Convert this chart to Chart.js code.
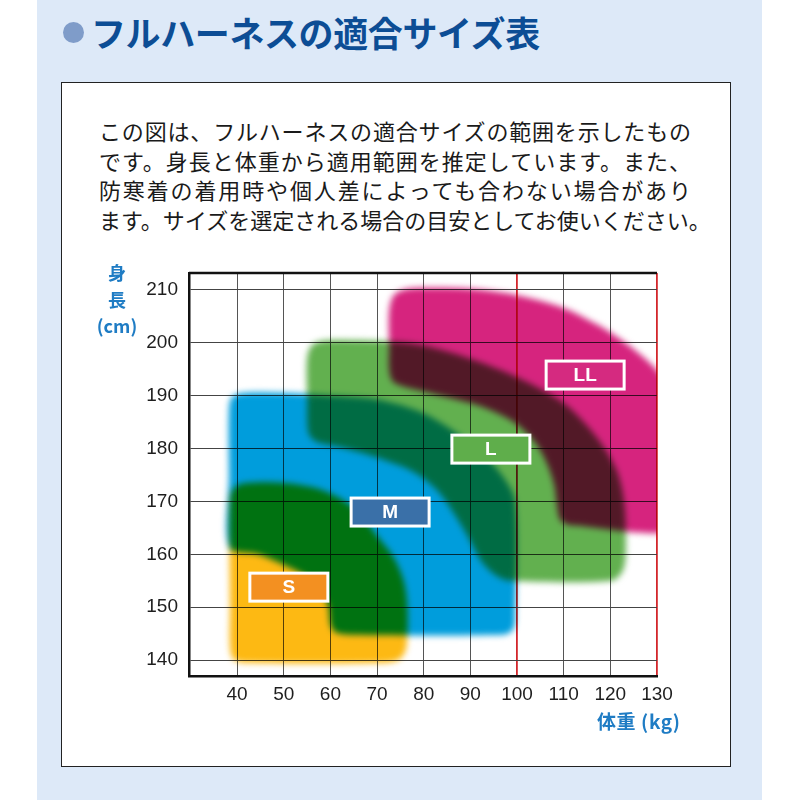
<!DOCTYPE html>
<html>
<head>
<meta charset="utf-8">
<script src="https://cdn.jsdelivr.net/npm/chart.js@4.4.1/dist/chart.umd.min.js"></script>
<style>
  body { margin: 0; width: 800px; height: 800px; background: #fff; position: relative; overflow: hidden; }
  #panel { position: absolute; left: 37px; top: 0; width: 725px; height: 800px; background: #dde9f8; }
  #bullet { position: absolute; left: 63px; top: 22px; width: 21px; height: 21px; border-radius: 50%; background: #7f9cc9; }
  #title { position: absolute; left: 91px; top: 10px; font: bold 35px/44px "Noto Sans CJK JP", sans-serif; letter-spacing: -0.4px; color: #0c4d95; white-space: nowrap; }
  #box { position: absolute; left: 61px; top: 82px; width: 668px; height: 683px; border: 1.5px solid #222; background: #fff; }
  #lead { position: absolute; left: 99px; top: 116px; width: 592px; font: 22px "Noto Sans CJK JP", sans-serif; color: #1a1a1a; }
  #lead div { height: 29.5px; line-height: 29.5px; text-align: justify; text-align-last: justify; white-space: nowrap; }
  #wrap { position: absolute; left: 80px; top: 250px; width: 640px; height: 500px; }
  .axt { position: absolute; font: bold 18px "Noto Sans CJK JP", sans-serif; color: #1f7cc4; white-space: nowrap; }
  #ytitle { left: 92px; top: 259px; width: 50px; text-align: center; line-height: 26.5px; }
  #xtitle { left: 597px; top: 708px; line-height: 26px; font-size: 19px; letter-spacing: 0.6px; }
</style>
</head>
<body>
<div id="panel"></div>
<div id="bullet"></div>
<div id="title">フルハーネスの適合サイズ表</div>
<div id="box"></div>
<div id="lead">
  <div>この図は、フルハーネスの適合サイズの範囲を示したもの</div>
  <div>です。身長と体重から適用範囲を推定しています。また、</div>
  <div>防寒着の着用時や個人差によっても合わない場合があり</div>
  <div>ます。サイズを選定される場合の目安としてお使いください。</div>
</div>
<div id="wrap"><canvas id="chart"></canvas></div>
<div id="ytitle" class="axt">身<br>長<br>(cm)</div>
<div id="xtitle" class="axt">体重 (kg)</div>

<script>
// axes: weight (kg) across, height (cm) up
const xTicks = [40, 50, 60, 70, 80, 90, 100, 110, 120, 130]
const yTicks = [140, 150, 160, 170, 180, 190, 200, 210]
const redLines = [100, 130]

// outlines of each size area (kg, cm)
const sKg = [38.5, 38.5, 39.5, 42, 50, 57, 62, 66, 70, 73.5, 75.7, 76.5, 76.3, 75, 72, 41.5, 39.2, 38.5]
const sCm = [150, 170.5, 172.7, 173.5, 173.5, 172.5, 170.6, 168, 163.5, 159.5, 155, 150, 142.5, 140.3, 139.5, 139.5, 140.2, 142.5]

const mKg = [38.3, 38.3, 39, 41.5, 50, 60, 70, 80, 90, 96.5, 99.6, 99.6, 99, 97, 64, 61, 60, 59.5, 57.5, 54.5, 50, 44.5, 38.3]
const mCm = [175, 187.5, 189.8, 190.5, 190.5, 190, 189.3, 186.7, 181, 175.3, 170, 147.5, 145.6, 144.8, 144.8, 145.3, 146.8, 150.3, 153.5, 156, 158, 160, 161.3]

const lKg = [55, 55, 56, 58.5, 65, 72, 80, 90, 100, 110, 117, 121.3, 123, 123.3, 122.6, 120.3, 98.5, 95.5, 92.5, 90, 87, 83, 78, 70, 62, 57, 55.3]
const lCm = [190, 197, 199.5, 200.4, 200.5, 200.3, 199.5, 197, 193.5, 188.6, 182.2, 176, 169.6, 160, 156.8, 155, 155, 156, 158.5, 162.5, 167, 172, 175.5, 178.3, 180.3, 181.3, 183]

const llKg = [72.6, 72.6, 73.6, 76.5, 82, 90, 100, 110, 116.7, 120.3, 125.3, 130, 135, 135, 111.5, 109.3, 108.6, 108, 106.5, 104, 100, 95, 90, 80, 75.5, 73.3, 72.6]
const llCm = [199, 206, 209, 210.2, 210.4, 210.2, 209, 206.6, 203.7, 201.8, 198.6, 194.8, 188, 165.5, 165.5, 166.5, 169, 173, 177, 181, 184.6, 187, 188.6, 190.8, 191.8, 192.8, 195]

// size tags
const labelNames = ['S', 'M', 'L', 'LL']
const labelKg = [51.1, 72.8, 94.4, 114.6]
const labelCm = [153.8, 168, 179.9, 193.9]

const areaColors = ['#fdb913', '#009ddc', '#62b04f', '#d6247e']
const tagColors = ['#f39021', '#3a70a8', '#5fae4b', '#d52a80']

function outline(kg, cm) {
    const pts = kg.map((v, i) => ({x: v, y: cm[i]}))
    pts.push(pts[0])
    return pts
}

const areas = [outline(sKg, sCm), outline(mKg, mCm), outline(lKg, lCm), outline(llKg, llCm)]

// shapes overlap like ink: multiply + soft edges, then tags on top
const blendAreas = {
    id: 'blendAreas',
    beforeDatasetsDraw(chart) {
        const ctx = chart.ctx
        ctx.save()
        ctx.globalCompositeOperation = 'multiply'
        ctx.filter = 'blur(3px)'
    },
    afterDatasetsDraw(chart) {
        const ctx = chart.ctx
        ctx.restore()
        const {chartArea: {left, top, right}, scales: {x, y}} = chart
        ctx.save()
        ctx.strokeStyle = '#111'
        ctx.lineWidth = 2.5
        ctx.beginPath()
        ctx.moveTo(left, top)
        ctx.lineTo(right, top)
        ctx.stroke()

        ctx.font = 'bold 19px "Liberation Sans", Arial, sans-serif'
        ctx.textAlign = 'center'
        ctx.textBaseline = 'middle'
        labelNames.forEach((name, i) => {
            const cx = x.getPixelForValue(labelKg[i])
            const cy = y.getPixelForValue(labelCm[i])
            ctx.fillStyle = tagColors[i]
            ctx.fillRect(cx - 39, cy - 14, 78, 28)
            ctx.strokeStyle = '#fff'
            ctx.lineWidth = 3
            ctx.strokeRect(cx - 39, cy - 14, 78, 28)
            ctx.fillStyle = '#fff'
            ctx.fillText(name, cx, cy + 1)
        })
        ctx.restore()
    }
}

const tickFont = {family: '"Liberation Sans", Arial, sans-serif', size: 19}

new Chart(document.getElementById('chart'), {
    type: 'scatter',
    data: {
        datasets: areas.map((pts, i) => ({
            data: pts,
            showLine: true,
            fill: 'shape',
            backgroundColor: areaColors[i],
            borderColor: 'transparent',
            borderWidth: 0,
            pointRadius: 0,
            pointHoverRadius: 0,
            tension: 0.3
        }))
    },
    options: {
        responsive: true,
        maintainAspectRatio: false,
        animation: false,
        events: [],
        layout: {padding: {top: 23, right: 63, left: 0, bottom: 0}},
        elements: {line: {capBezierPoints: false}},
        plugins: {legend: {display: false}, tooltip: {enabled: false}},
        scales: {
            x: {
                type: 'linear',
                min: 29.7,
                max: 130,
                afterBuildTicks: s => { s.ticks = xTicks.map(v => ({value: v})) },
                afterFit: s => { s.height = 74 },
                grid: {
                    drawTicks: false,
                    color: c => (c.tick && redLines.includes(c.tick.value)) ? '#d3262b' : '#555',
                    lineWidth: c => (c.tick && redLines.includes(c.tick.value)) ? 1.8 : 1
                },
                border: {color: '#111', width: 2.5},
                ticks: {font: tickFont, color: '#1e1e1e', padding: 7, maxRotation: 0}
            },
            y: {
                type: 'linear',
                min: 137,
                max: 213.2,
                afterBuildTicks: s => { s.ticks = yTicks.map(v => ({value: v})) },
                afterFit: s => { s.width = 109 },
                grid: {drawTicks: false, color: '#444', lineWidth: 1},
                border: {color: '#111', width: 2.5},
                ticks: {font: tickFont, color: '#1e1e1e', padding: 11}
            }
        }
    },
    plugins: [blendAreas]
})
</script>
</body>
</html>
